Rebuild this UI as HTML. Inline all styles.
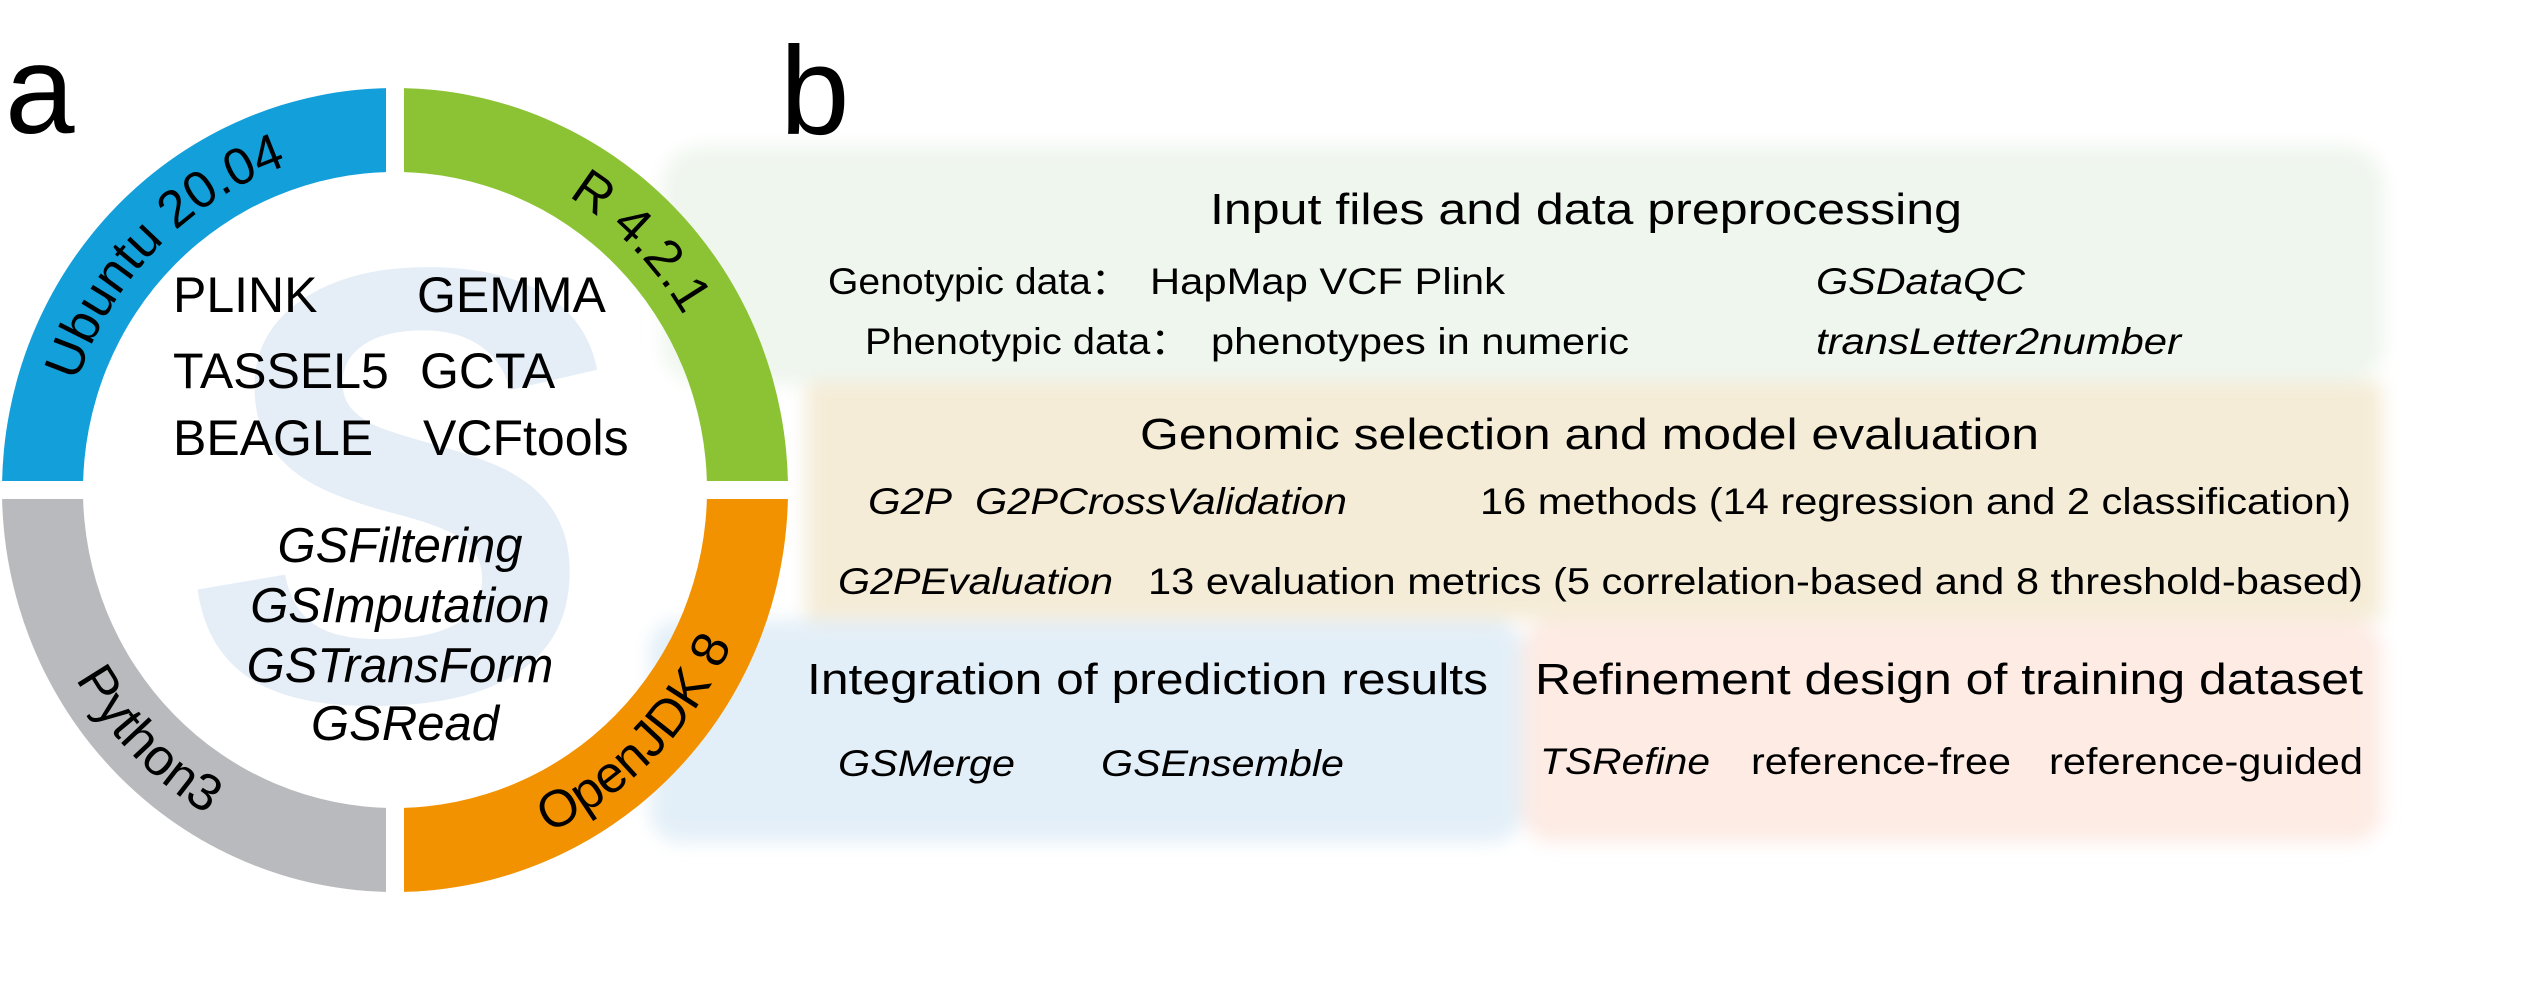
<!DOCTYPE html>
<html><head><meta charset="utf-8"><style>
html,body{margin:0;padding:0;background:#fff;}
svg{display:block;}
text{font-family:"Liberation Sans",Arial,sans-serif;}
.it{font-style:italic;}
</style></head><body>
<svg width="2538" height="990" viewBox="0 0 2538 990" xmlns="http://www.w3.org/2000/svg">
<defs>
<filter id="bl" x="-10%" y="-20%" width="120%" height="140%"><feGaussianBlur stdDeviation="9"/></filter>
<clipPath id="q1"><rect x="0" y="0" width="386" height="481"/></clipPath>
<clipPath id="q2"><rect x="404" y="0" width="500" height="481"/></clipPath>
<clipPath id="q3"><rect x="0" y="499" width="386" height="500"/></clipPath>
<clipPath id="q4"><rect x="404" y="499" width="500" height="500"/></clipPath>
<path id="ring" fill-rule="evenodd" d="M2,490 A393,402 0 1 0 788,490 A393,402 0 1 0 2,490 Z M83,490 A312,318 0 1 1 707,490 A312,318 0 1 1 83,490 Z"/>
<path id="p1" d="M60,490 A335,343 0 0 1 395,147" fill="none"/>
<path id="p2" d="M395,147 A335,343 0 0 1 730,490" fill="none"/>
<path id="p3" d="M26,490 A369,377 0 0 0 395,867" fill="none"/>
<path id="p4" d="M395,867 A369,377 0 0 0 764,490" fill="none"/>
</defs>

<g filter="url(#bl)">
<rect x="662" y="146" width="1722" height="238" rx="40" fill="#eff6ee"/>
<rect x="806" y="382" width="1576" height="238" fill="#f5ecd7"/>
<rect x="650" y="620" width="872" height="222" rx="30" fill="#e3eff8"/>
<rect x="1522" y="620" width="860" height="222" rx="30" fill="#fdebe4"/>
</g>

<text x="190" y="700" font-size="620" font-weight="bold" font-style="italic" style="fill:#e5eef7">S</text>

<use href="#ring" fill="#139fda" clip-path="url(#q1)"/>
<use href="#ring" fill="#8bc334" clip-path="url(#q2)"/>
<use href="#ring" fill="#b9babd" clip-path="url(#q3)"/>
<use href="#ring" fill="#f39200" clip-path="url(#q4)"/>

<g fill="#000">
<text font-size="52"><textPath href="#p1" startOffset="50%" text-anchor="middle">Ubuntu 20.04</textPath></text>
<text font-size="52"><textPath href="#p2" startOffset="50%" text-anchor="middle">R 4.2.1</textPath></text>
<text font-size="52"><textPath href="#p3" startOffset="50%" text-anchor="middle">Python3</textPath></text>
<text font-size="52"><textPath href="#p4" startOffset="50%" text-anchor="middle">OpenJDK 8</textPath></text>

<text x="5" y="133" font-size="125">a</text>
<text x="780" y="134" font-size="125">b</text>

<g font-size="50">
<text x="173" y="312">PLINK</text><text x="417" y="312">GEMMA</text>
<text x="173" y="388">TASSEL5</text><text x="420" y="388">GCTA</text>
<text x="173" y="455">BEAGLE</text><text x="423" y="455">VCFtools</text>
</g>
<g font-size="49" text-anchor="middle">
<text x="400" y="562" class="it">GSFiltering</text>
<text x="400" y="622" class="it">GSImputation</text>
<text x="400" y="682" class="it">GSTransForm</text>
<text x="405" y="740" class="it">GSRead</text>
</g>

<g font-size="44">
<text x="1210" y="224" textLength="752" lengthAdjust="spacingAndGlyphs">Input files and data preprocessing</text>
<text x="1140" y="449" textLength="899" lengthAdjust="spacingAndGlyphs">Genomic selection and model evaluation</text>
<text x="807" y="694" textLength="681" lengthAdjust="spacingAndGlyphs">Integration of prediction results</text>
<text x="1535" y="694" textLength="828" lengthAdjust="spacingAndGlyphs">Refinement design of training dataset</text>
</g>
<g font-size="37">
<text x="828" y="294" textLength="302" lengthAdjust="spacingAndGlyphs">Genotypic data：</text>
<text x="1150" y="294" textLength="355" lengthAdjust="spacingAndGlyphs">HapMap VCF Plink</text>
<text x="1816" y="294" class="it" textLength="209" lengthAdjust="spacingAndGlyphs">GSDataQC</text>
<text x="865" y="354" textLength="325" lengthAdjust="spacingAndGlyphs">Phenotypic data：</text>
<text x="1211" y="354" textLength="418" lengthAdjust="spacingAndGlyphs">phenotypes in numeric</text>
<text x="1816" y="354" class="it" textLength="365" lengthAdjust="spacingAndGlyphs">transLetter2number</text>
<text x="868" y="514" class="it" textLength="84" lengthAdjust="spacingAndGlyphs">G2P</text>
<text x="975" y="514" class="it" textLength="372" lengthAdjust="spacingAndGlyphs">G2PCrossValidation</text>
<text x="1480" y="514" textLength="871" lengthAdjust="spacingAndGlyphs">16 methods (14 regression and 2 classification)</text>
<text x="838" y="594" class="it" textLength="275" lengthAdjust="spacingAndGlyphs">G2PEvaluation</text>
<text x="1148" y="594" textLength="1215" lengthAdjust="spacingAndGlyphs">13 evaluation metrics (5 correlation-based and 8 threshold-based)</text>
<text x="838" y="776" class="it" textLength="177" lengthAdjust="spacingAndGlyphs">GSMerge</text>
<text x="1101" y="776" class="it" textLength="243" lengthAdjust="spacingAndGlyphs">GSEnsemble</text>
<text x="1540" y="774" class="it" textLength="170" lengthAdjust="spacingAndGlyphs">TSRefine</text>
<text x="1751" y="774" textLength="260" lengthAdjust="spacingAndGlyphs">reference-free</text>
<text x="2049" y="774" textLength="314" lengthAdjust="spacingAndGlyphs">reference-guided</text>
</g>
</g>
</svg>
</body></html>
